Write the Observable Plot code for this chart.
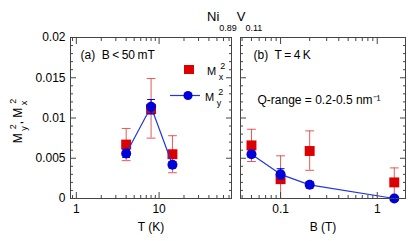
<!DOCTYPE html>
<html>
<head>
<meta charset="utf-8">
<script src="https://cdn.jsdelivr.net/npm/d3@7"></script>
<script src="https://cdn.jsdelivr.net/npm/@observablehq/plot@0.6"></script>
<style>
  html, body { margin: 0; padding: 0; background: white; }
  body { font-family: "Liberation Sans", Arial, sans-serif; color: black; }
  #wrap { position: relative; width: 415px; height: 241px; overflow: hidden; }
  #wrap > svg, #wrap > div { position: absolute; }
  .m { position: relative; display: inline-block; padding-right: 9px; }
  .sp { position: absolute; right: 0; top: -5px; font-size: 9px; }
  .sb { position: absolute; right: 2px; top: 6px; font-size: 9px; }
</style>
</head>
<body>
<div id="wrap"></div>
<script>
// ---- data: panel (a), B < 50 mT ----
const T = [4, 8, 14.5];
const MxA = [0.0067, 0.0111, 0.0055];
const MxA_lo = [0.0047, 0.0075, 0.0032];
const MxA_hi = [0.0087, 0.0149, 0.0078];
const MyA = [0.0056, 0.0114, 0.0042];
const MyA_lo = [0.0051, 0.0105, 0.0038];
const MyA_hi = [0.0061, 0.0123, 0.0046];

// ---- data: panel (b), T = 4 K ----
const B = [0.05, 0.1, 0.2, 1.5];
const MxB = [0.0066, 0.0024, 0.0059, 0.0020];
const MxB_lo = [0.0046, 0.0, 0.0035, 0.0];
const MxB_hi = [0.0086, 0.0053, 0.0084, 0.0038];
const MyB = [0.0055, 0.0030, 0.0017, 0.0];
const MyB_lo = [0.0051, 0.0024, 0.0013, 0.0];
const MyB_hi = [0.0059, 0.0037, 0.0021, 0.0002];

// ---- ticks ----
const yTicks = [0, 0.005, 0.01, 0.015, 0.02];
const yTickLabels = ["0", "0.005", "0.01", "0.015", "0.02"];
const yMinor = [0.001,0.002,0.003,0.004,0.006,0.007,0.008,0.009,0.011,0.012,0.013,0.014,0.016,0.017,0.018,0.019];
const tTicks = [1, 10];
const tTickLabels = ["1", "10"];
const tMinor = [0.9, 2,3,4,5,6,7,8,9, 20,30,40,50,60,70];
const bTicks = [0.1, 1];
const bTickLabels = ["0.1", "1"];
const bMinor = [0.04,0.05,0.06,0.07,0.08,0.09, 0.2,0.3,0.4,0.5,0.6,0.7,0.8,0.9];

const RED = "#dd0000", RED_ERR = "#e25a5a", BLUE = "#0000d8", BLUE_LINE = "#2236dc";
const FONT = '"Liberation Sans", Arial, sans-serif';

const rowsA = T.map((t, i) => ({x: t, mx: MxA[i], mxlo: MxA_lo[i], mxhi: MxA_hi[i], my: MyA[i], mylo: MyA_lo[i], myhi: MyA_hi[i]}));
const rowsB = B.map((b, i) => ({x: b, mx: MxB[i], mxlo: MxB_lo[i], mxhi: MxB_hi[i], my: MyB[i], mylo: MyB_lo[i], myhi: MyB_hi[i]}));

const capShape = {draw(ctx, l) { ctx.moveTo(0, 0); ctx.lineTo(0, -l); }};

function frameTicks(xTicks, xMinor, withYLabels) {
  const marks = [
    Plot.axisX({anchor: "bottom", ticks: xTicks, tickSize: -6, text: null, label: null, stroke: "#444"}),
    Plot.axisX({anchor: "bottom", ticks: xMinor, tickSize: -3, text: null, label: null, stroke: "#444"}),
    Plot.axisX({anchor: "top", ticks: xTicks, tickSize: -6, text: null, label: null, stroke: "#444"}),
    Plot.axisX({anchor: "top", ticks: xMinor, tickSize: -3, text: null, label: null, stroke: "#444"}),
    Plot.axisY({anchor: "left", ticks: yTicks, tickSize: -6, text: null, label: null, stroke: "#444"}),
    Plot.axisY({anchor: "left", ticks: yMinor, tickSize: -3, text: null, label: null, stroke: "#444"}),
    Plot.axisY({anchor: "right", ticks: yTicks, tickSize: -6, text: null, label: null, stroke: "#444"}),
    Plot.axisY({anchor: "right", ticks: yMinor, tickSize: -3, text: null, label: null, stroke: "#444"}),
    Plot.frame({stroke: "#444"})
  ];
  if (withYLabels) {
    marks.push(Plot.axisY({anchor: "left", ticks: yTicks, tickSize: 0, tickPadding: 5, label: null,
      tickFormat: d => yTickLabels[yTicks.indexOf(d)]}));
  }
  return marks;
}

function dataMarks(rows) {
  return [
    Plot.ruleX(rows, {x: "x", y1: "mxlo", y2: "mxhi", stroke: RED_ERR, strokeWidth: 1}),
    Plot.vector(rows, {x: "x", y: "mxhi", length: 8, rotate: 90, anchor: "middle", shape: capShape, stroke: RED_ERR, strokeWidth: 1}),
    Plot.vector(rows.filter(d => d.mxlo > 0), {x: "x", y: "mxlo", length: 8, rotate: 90, anchor: "middle", shape: capShape, stroke: RED_ERR, strokeWidth: 1}),
    Plot.dot(rows, {x: "x", y: "mx", symbol: "square", r: 5.6, fill: RED, stroke: "none"}),
    Plot.line(rows, {x: "x", y: "my", stroke: BLUE_LINE, strokeWidth: 1.2}),
    Plot.ruleX(rows, {x: "x", y1: "mylo", y2: "myhi", stroke: BLUE, strokeWidth: 1}),
    Plot.vector(rows, {x: "x", y: "myhi", length: 7, rotate: 90, anchor: "middle", shape: capShape, stroke: BLUE, strokeWidth: 1}),
    Plot.vector(rows, {x: "x", y: "mylo", length: 7, rotate: 90, anchor: "middle", shape: capShape, stroke: BLUE, strokeWidth: 1}),
    Plot.dot(rows, {x: "x", y: "my", symbol: "circle", r: 5, fill: BLUE, stroke: "none"})
  ];
}

const common = {
  height: 241, marginTop: 37, marginBottom: 43,
  y: {type: "linear", domain: [0, 0.02]},
  style: {fontFamily: FONT, fontSize: "12px", color: "black", background: "transparent", overflow: "visible"}
};

const plotA = Plot.plot({
  ...common,
  width: 236, marginLeft: 70, marginRight: 5,
  x: {type: "log", domain: [0.85, 75]},
  marks: [
    ...dataMarks(rowsA),
    ...frameTicks(tTicks, tMinor, true),
    Plot.axisX({anchor: "bottom", ticks: tTicks, tickSize: 0, tickPadding: 6, label: null,
      tickFormat: d => tTickLabels[tTicks.indexOf(d)]}),
    Plot.text(["T (K)"], {frameAnchor: "bottom", dy: 24, lineAnchor: "top", fontSize: 12}),
    Plot.text(["(a)  B\u2009<\u200950\u2009mT"], {frameAnchor: "top-left", dx: 10, dy: 18, textAnchor: "start", lineAnchor: "middle", fontSize: 12})
  ]
});
plotA.style.left = "0px"; plotA.style.top = "0px";

const plotB = Plot.plot({
  ...common,
  width: 179, marginLeft: 4, marginRight: 10,
  x: {type: "log", domain: [0.0385, 1.96]},
  marks: [
    ...dataMarks(rowsB),
    ...frameTicks(bTicks, bMinor, false),
    Plot.axisX({anchor: "bottom", ticks: bTicks, tickSize: 0, tickPadding: 6, label: null,
      tickFormat: d => bTickLabels[bTicks.indexOf(d)]}),
    Plot.text(["B (T)"], {frameAnchor: "bottom", dy: 24, lineAnchor: "top", fontSize: 12}),
    Plot.text(["(b)  T\u2009=\u20094\u2009K"], {frameAnchor: "top-left", dx: 13, dy: 18, textAnchor: "start", lineAnchor: "middle", fontSize: 12}),
    Plot.text(["Q-range = 0.2-0.5 nm\u207B\u00B9"], {frameAnchor: "top-left", dx: 17, dy: 63, textAnchor: "start", lineAnchor: "middle", fontSize: 12})
  ]
});
plotB.style.left = "236px"; plotB.style.top = "0px";

const wrap = document.getElementById("wrap");
wrap.appendChild(plotA);
wrap.appendChild(plotB);

// title
const title = document.createElement("div");
title.style.cssText = "left:207px; top:10px; font-size:13px; line-height:13px; white-space:nowrap;";
title.innerHTML = 'Ni<span style="font-size:9px; position:relative; top:10px;">0.89</span>V<span style="font-size:9px; position:relative; top:10px;">0.11</span>';
wrap.appendChild(title);

// y label
const ylab = document.createElement("div");
ylab.style.cssText = "left:-22px; top:114px; width:80px; text-align:center; font-size:12px; line-height:14px; white-space:nowrap; transform: rotate(-90deg);";
ylab.innerHTML = '<span class="m">M<span class="sp">2</span><span class="sb">y</span></span>, <span class="m">M<span class="sp">2</span><span class="sb">x</span></span>';
wrap.appendChild(ylab);

// legend
const leg = document.createElement("div");
leg.style.cssText = "left:168px; top:60px; width:60px; height:48px; font-size:11px;";
leg.innerHTML =
  '<svg width="36" height="48" style="position:absolute;left:0;top:0;overflow:visible">' +
  '<rect x="16" y="5" width="10" height="9" fill="' + RED + '"/>' +
  '<line x1="2" x2="32" y1="35.5" y2="35.5" stroke="' + BLUE_LINE + '" stroke-width="1.2"/>' +
  '<circle cx="20" cy="35.5" r="4.6" fill="' + BLUE + '"/></svg>' +
  '<div style="position:absolute;left:39px;top:5px;line-height:12px;"><span class="m">M<span class="sp">2</span><span class="sb">x</span></span></div>' +
  '<div style="position:absolute;left:37px;top:31px;line-height:12px;"><span class="m">M<span class="sp">2</span><span class="sb">y</span></span></div>';
wrap.appendChild(leg);
</script>
</body>
</html>
